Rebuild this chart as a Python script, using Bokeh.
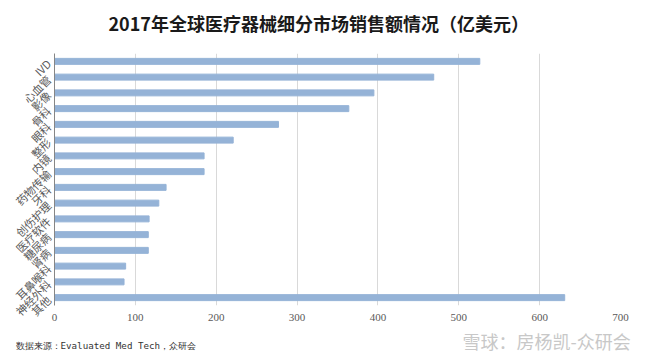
import math
from bokeh.plotting import figure
from bokeh.models import FactorRange, FixedTicker, Range1d
from bokeh.core.properties import value
from bokeh.embed import file_html
from bokeh.resources import INLINE

categories = ["IVD", "心血管", "影像", "骨科", "眼科", "整形", "内镜", "药物传输",
              "牙科", "创伤护理", "医疗软件", "糖尿病", "肾病", "耳鼻喉科", "神经外科", "其他"]
sales = [526, 469, 395, 364, 277, 221, 185, 185, 138, 129, 117, 116, 116, 88, 86, 631]
x_ticks = [0, 100, 200, 300, 400, 500, 600, 700]
title_text = "2017年全球医疗器械细分市场销售额情况（亿美元）"
source_text = "数据来源：Evaluated Med Tech，众研会"
watermark_text = "雪球：房杨凯-众研会"

W = 644
HEAD_H, MAIN_H, FOOT_H = 44, 282, 28


def text_panel(h):
    f = figure(width=W, height=h, output_backend="svg", toolbar_location=None,
               x_range=Range1d(0, W), y_range=Range1d(0, h),
               x_axis_type=None, y_axis_type=None,
               min_border=0, min_border_left=0, min_border_right=0,
               min_border_top=0, min_border_bottom=0)
    f.grid.grid_line_color = None
    f.outline_line_color = None
    f.background_fill_color = "white"
    f.border_fill_color = "white"
    return f


# header with the chart title
head = text_panel(HEAD_H)
head.text(x=[108], y=[HEAD_H / 2], text=[title_text], text_font=value("Noto Sans CJK SC"),
          text_font_style="bold", text_font_size="18px", text_color="#1a1a1a",
          text_baseline="middle", text_align="left")

# main bar chart
y_factors = list(reversed(categories))
p = figure(width=W, height=MAIN_H, output_backend="svg", toolbar_location=None,
           x_range=(0, 700), y_range=FactorRange(*y_factors, range_padding=0),
           min_border_left=54, min_border_right=24, min_border_top=9, min_border_bottom=21)

p.hbar(y=categories, right=sales, left=0, height=0.38, color="#95B3D7")

p.outline_line_color = None
p.background_fill_color = "white"
p.border_fill_color = "white"
p.ygrid.grid_line_color = None
p.xgrid.grid_line_color = "#D9D9D9"
p.xgrid.ticker = FixedTicker(ticks=x_ticks[1:])
p.xaxis.ticker = FixedTicker(ticks=x_ticks)
p.xaxis.axis_line_color = None
p.xaxis.major_tick_line_color = None
p.xaxis.major_tick_out = 0
p.xaxis.major_tick_in = 0
p.xaxis.minor_tick_line_color = None
p.xaxis.major_label_text_font = "Liberation Sans Narrow"
p.xaxis.major_label_text_font_size = "11px"
p.xaxis.major_label_text_color = "#595959"
p.xaxis.major_label_standoff = 8

p.yaxis.axis_line_color = "#868686"
p.yaxis.major_tick_line_color = None
p.yaxis.major_tick_out = 0
p.yaxis.major_tick_in = 0
p.yaxis.minor_tick_line_color = None
p.yaxis.major_label_orientation = math.pi / 4
p.yaxis.major_label_text_font = "Noto Sans CJK SC"
p.yaxis.major_label_text_font_size = "11px"
p.yaxis.major_label_text_color = "#595959"
p.yaxis.major_label_standoff = 6

# footer with source note and watermark
foot = text_panel(FOOT_H)
foot.text(x=[15], y=[FOOT_H - 19], text=[source_text], text_font=value("DejaVu Sans Mono"),
          text_font_size="9.2px", text_color="#333333", text_baseline="middle", text_align="left")
foot.text(x=[462], y=[FOOT_H - 14], text=[watermark_text], text_font=value("Noto Sans CJK SC"),
          text_font_size="18px", text_color="#C8C8C8", text_baseline="middle", text_align="left")

open("out.html", "w").write(file_html([head, p, foot], INLINE))
